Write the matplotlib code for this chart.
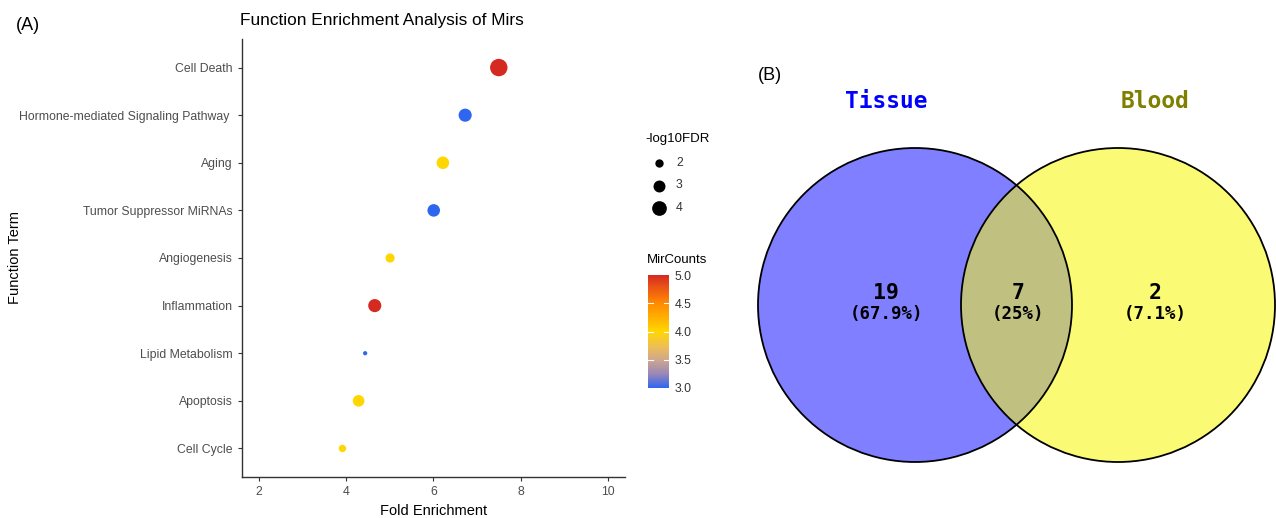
import matplotlib.pyplot as plt
import numpy as np
from matplotlib.colors import LinearSegmentedColormap, Normalize
from matplotlib.patches import Circle

# enrichment terms (bottom to top)
terms = ["Cell Cycle", "Apoptosis", "Lipid Metabolism", "Inflammation", "Angiogenesis",
         "Tumor Suppressor MiRNAs", "Aging", "Hormone-mediated Signaling Pathway ", "Cell Death"]
fold_enrichment = [3.92, 4.29, 4.44, 4.66, 5.01, 6.01, 6.22, 6.73, 7.50]
mir_counts = [4, 4, 3, 5, 4, 3, 4, 3, 5]
neg_log10_fdr = [1.8, 2.9, 1.3, 3.4, 2.2, 3.2, 3.2, 3.4, 5.2]
size_breaks = [2, 3, 4]

# venn counts
venn_sets = ["Tissue", "Blood"]
tissue_only = 19
shared = 7
blood_only = 2

W, H = 1276, 518
fig = plt.figure(figsize=(W / 100, H / 100), dpi=100)
plt.rcParams['font.family'] = ['Liberation Sans', 'DejaVu Sans']


def fx(px):
    return px / W


def fy(py):
    return 1 - py / H


def dot_size(v):
    # area grows linearly with -log10FDR
    return np.maximum(38.0 * np.asarray(v, dtype=float) - 40.0, 4.0)


cmap = LinearSegmentedColormap.from_list("mir", [
    (0.0, "#2F66F0"), (0.125, "#9A88B8"), (0.25, "#CFA88C"), (0.375, "#F0C050"),
    (0.5, "#FFD700"), (0.625, "#FFB000"), (0.75, "#FF8A00"), (0.875, "#EE5A12"),
    (1.0, "#D42A20")])
norm = Normalize(vmin=3, vmax=5)

# overlay in pixel units for the hand-placed legend keys
lay = fig.add_axes([0, 0, 1, 1], zorder=-1)
lay.set_xlim(0, W)
lay.set_ylim(H, 0)
lay.axis("off")

# ---- (A) dot plot ----
ax = fig.add_axes([fx(242), fy(477), fx(625) - fx(242), fy(39) - fy(477)])
ypos = np.arange(1, len(terms) + 1)
sc = ax.scatter(fold_enrichment, ypos, s=dot_size(neg_log10_fdr), c=mir_counts,
                cmap=cmap, norm=norm, linewidths=0, zorder=3)
ax.set_xlim(1.62, 10.39)
ax.set_ylim(0.4, len(terms) + 0.6)
ax.set_xticks([2, 4, 6, 8, 10])
ax.set_yticks(ypos)
ax.set_yticklabels(terms)
for side in ["top", "right"]:
    ax.spines[side].set_visible(False)
for side in ["left", "bottom"]:
    ax.spines[side].set_color("#333333")
    ax.spines[side].set_linewidth(1.0)
ax.tick_params(axis="both", colors="#333333", labelcolor="#4D4D4D", labelsize=8.8,
               length=3, width=0.8)
ax.set_xlabel("Fold Enrichment", fontsize=10.5, labelpad=4)
fig.text(fx(15), fy(258), "Function Term", rotation=90, ha="center", va="center", fontsize=10.5)
fig.text(fx(382), fy(20), "Function Enrichment Analysis of Mirs", ha="center", va="center",
         fontsize=12.4)
fig.text(fx(28), fy(25), "(A)", ha="center", va="center", fontsize=13)

# size legend
lay.text(645, 139, "-log10FDR", ha="left", va="center", fontsize=9.5)
for i, v in enumerate(size_breaks):
    yy = 163 + 22.5 * i
    lay.scatter([659], [yy], s=dot_size(v), color="black", linewidths=0)
    lay.text(676, yy, str(v), ha="left", va="center", fontsize=8.8, color="#333333")

# colour legend
cax = fig.add_axes([fx(648), fy(388), fx(21), fy(0) - fy(113)])
cb = fig.colorbar(sc, cax=cax, ticks=[3.0, 3.5, 4.0, 4.5, 5.0], format="%.1f")
cb.outline.set_visible(False)
cax.tick_params(length=0, labelsize=8.8, labelcolor="#333333", pad=4)
for t in [3.5, 4.0, 4.5]:
    cax.plot([0, 0.22], [t, t], color="white", lw=0.8, transform=cax.get_yaxis_transform())
    cax.plot([0.78, 1], [t, t], color="white", lw=0.8, transform=cax.get_yaxis_transform())
fig.text(fx(647), fy(260), "MirCounts", ha="left", va="center", fontsize=9.5)

# ---- (B) venn diagram ----
vax = fig.add_axes([fx(740), 0, 1 - fx(740), 1])
vax.set_xlim(740, W)
vax.set_ylim(H, 0)
vax.axis("off")

r = 157
c_left = (915, 305)
c_right = (1118, 305)
vax.add_patch(Circle(c_left, r, facecolor="#7F7FFF", edgecolor="none", zorder=1))
vax.add_patch(Circle(c_right, r, facecolor="#FAFA74", edgecolor="none", zorder=1))
clip = Circle(c_left, r, transform=vax.transData)
overlap = Circle(c_right, r, facecolor="#C0C080", edgecolor="none", zorder=2)
vax.add_patch(overlap)
overlap.set_clip_path(clip)
for c in (c_left, c_right):
    vax.add_patch(Circle(c, r, facecolor="none", edgecolor="black", lw=1.3, zorder=3))

total = tissue_only + shared + blood_only


def pct(n):
    s = f"{100 * n / total:.1f}"
    return "(" + (s[:-2] if s.endswith(".0") else s) + "%)"


mono = "DejaVu Sans Mono"
for n, xc in [(tissue_only, 886), (shared, 1018), (blood_only, 1155)]:
    vax.text(xc, 293, str(n), ha="center", va="center", fontsize=15.5,
             fontweight="bold", family=mono, zorder=4)
    vax.text(xc, 314, pct(n), ha="center", va="center", fontsize=12.5,
             fontweight="bold", family=mono, zorder=4)

vax.text(886, 101, venn_sets[0], ha="center", va="center", fontsize=16.5,
         fontweight="bold", family=mono, color="#0000FF")
vax.text(1155, 101, venn_sets[1], ha="center", va="center", fontsize=16.5,
         fontweight="bold", family=mono, color="#808000")
vax.text(770, 75, "(B)", ha="center", va="center", fontsize=13)

fig.savefig("out.png", dpi=100)
